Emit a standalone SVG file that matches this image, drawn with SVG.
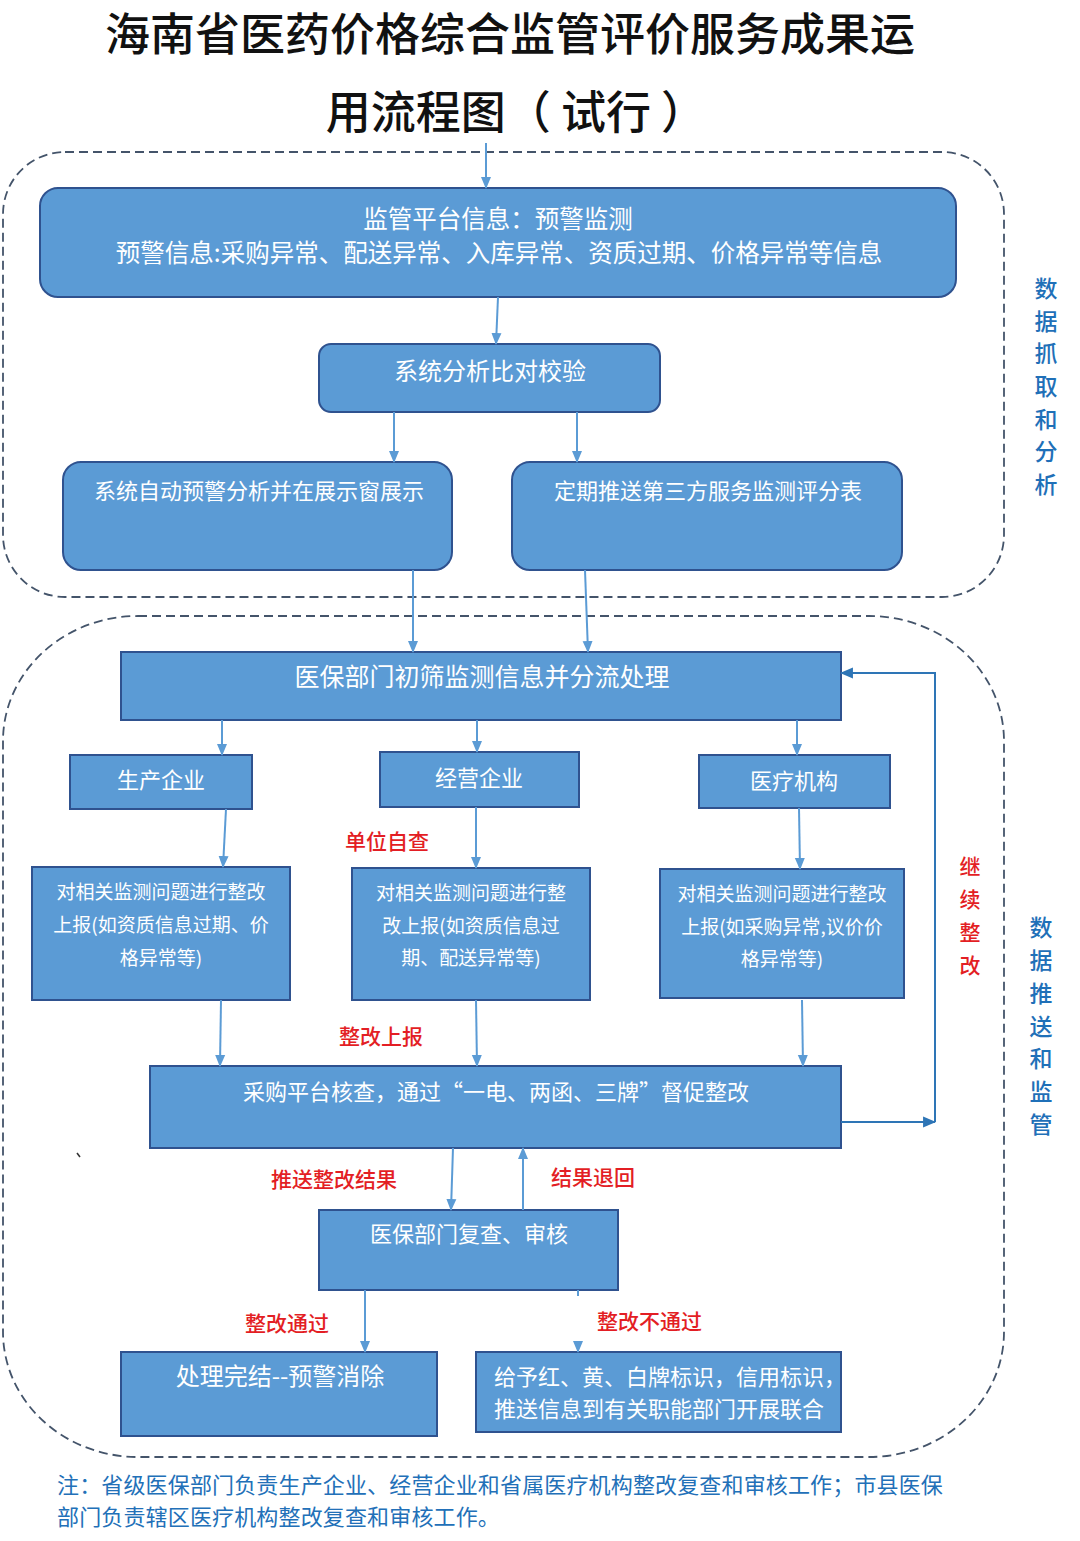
<svg xmlns="http://www.w3.org/2000/svg" width="1080" height="1541" viewBox="0 0 1080 1541">
<defs>
<marker id="ah" viewBox="0 0 12 12" refX="11" refY="6" markerWidth="12" markerHeight="12" markerUnits="userSpaceOnUse" orient="auto">
<path d="M0,1 L12,6 L0,11 Z" fill="#5b9bd5"/>
</marker>
<marker id="ahd" viewBox="0 0 12 12" refX="11" refY="6" markerWidth="13" markerHeight="13" markerUnits="userSpaceOnUse" orient="auto">
<path d="M0,1 L12,6 L0,11 Z" fill="#2e75b6"/>
</marker>
<style>
.region{fill:none;stroke:#44546a;stroke-width:1.8;stroke-dasharray:9 5}
.box{fill:#5b9bd5;stroke:#2f528f;stroke-width:2}
.t{font-family:"Noto Sans CJK SC","Noto Sans",sans-serif;fill:#ffffff}
.c{text-anchor:middle}
.red{font-family:"Noto Sans CJK SC","Noto Sans",sans-serif;fill:#e31e24;font-size:21px;font-weight:500}
.blue{font-family:"Noto Sans CJK SC","Noto Sans",sans-serif;fill:#1f70b8;font-size:23px;font-weight:500;text-anchor:middle}
.ln{stroke:#5b9bd5;stroke-width:2;fill:none;marker-end:url(#ah)}
.lnd{stroke:#2e75b6;stroke-width:2;fill:none}
</style>
</defs>
<rect width="1080" height="1541" fill="#ffffff"/>

<g id="title">
<text x="510" y="51" class="c" font-family="'Noto Sans CJK SC','Noto Sans',sans-serif" font-size="45" font-weight="500" fill="#111111">海南省医药价格综合监管评价服务成果运</text>
<text x="516" y="129" class="c" font-family="'Noto Sans CJK SC','Noto Sans',sans-serif" font-size="45" font-weight="500" fill="#111111">用流程图（ 试行 ）</text>
</g>

<g id="regions">
<rect class="region" x="3" y="152" width="1001" height="445" rx="62" ry="62"/>
<rect class="region" x="3" y="616" width="1001" height="841" rx="135" ry="125"/>
</g>

<g id="side-labels">
<text class="blue"><tspan x="1046" y="297">数</tspan><tspan x="1046" y="330">据</tspan><tspan x="1046" y="362">抓</tspan><tspan x="1046" y="395">取</tspan><tspan x="1046" y="428">和</tspan><tspan x="1046" y="460">分</tspan><tspan x="1046" y="493">析</tspan></text>
<text class="blue"><tspan x="1041" y="936">数</tspan><tspan x="1041" y="969">据</tspan><tspan x="1041" y="1002">推</tspan><tspan x="1041" y="1035">送</tspan><tspan x="1041" y="1067">和</tspan><tspan x="1041" y="1100">监</tspan><tspan x="1041" y="1133">管</tspan></text>
</g>

<g id="n1">
<rect class="box" x="40" y="188" width="916" height="109" rx="18"/>
<text class="t c" font-size="24.5" x="498" y="228">监管平台信息：预警监测</text>
<text class="t c" font-size="24.5" x="499" y="262">预警信息:采购异常、配送异常、入库异常、资质过期、价格异常等信息</text>
</g>

<g id="n2">
<rect class="box" x="319" y="344" width="341" height="68" rx="12"/>
<text class="t c" font-size="24" x="490" y="380">系统分析比对校验</text>
</g>

<g id="n3">
<rect class="box" x="63" y="462" width="389" height="108" rx="18"/>
<text class="t c" font-size="22" x="259" y="499">系统自动预警分析并在展示窗展示</text>
</g>

<g id="n4">
<rect class="box" x="512" y="462" width="390" height="108" rx="18"/>
<text class="t c" font-size="22" x="708" y="499">定期推送第三方服务监测评分表</text>
</g>

<g id="n5">
<rect class="box" x="121" y="652" width="720" height="68"/>
<text class="t c" font-size="25" x="482" y="686">医保部门初筛监测信息并分流处理</text>
</g>

<g id="n6">
<rect class="box" x="70" y="755" width="182" height="54"/>
<text class="t c" font-size="22" x="161" y="788">生产企业</text>
</g>

<g id="n7">
<rect class="box" x="380" y="752" width="199" height="55"/>
<text class="t c" font-size="22" x="479" y="786">经营企业</text>
</g>

<g id="n8">
<rect class="box" x="699" y="755" width="191" height="53"/>
<text class="t c" font-size="22" x="794" y="789">医疗机构</text>
</g>

<g id="n9">
<rect class="box" x="32" y="867" width="258" height="133"/>
<text class="t c" font-size="19" x="161" y="899">对相关监测问题进行整改</text>
<text class="t c" font-size="19" x="161" y="932">上报(如资质信息过期、价</text>
<text class="t c" font-size="19" x="161" y="965">格异常等)</text>
</g>

<g id="n10">
<rect class="box" x="352" y="868" width="238" height="132"/>
<text class="t c" font-size="19" x="471" y="900">对相关监测问题进行整</text>
<text class="t c" font-size="19" x="471" y="933">改上报(如资质信息过</text>
<text class="t c" font-size="19" x="471" y="965">期、配送异常等)</text>
</g>

<g id="n11">
<rect class="box" x="660" y="869" width="244" height="129"/>
<text class="t c" font-size="19" x="782" y="901">对相关监测问题进行整改</text>
<text class="t c" font-size="19" x="782" y="934">上报(如采购异常,议价价</text>
<text class="t c" font-size="19" x="782" y="966">格异常等)</text>
</g>

<g id="n12">
<rect class="box" x="150" y="1066" width="691" height="82"/>
<text class="t c" font-size="22" x="496" y="1100">采购平台核查，通过“一电、两函、三牌”督促整改</text>
</g>

<g id="n13">
<rect class="box" x="319" y="1210" width="299" height="80"/>
<text class="t c" font-size="22" x="469" y="1242">医保部门复查、审核</text>
</g>

<g id="n14">
<rect class="box" x="121" y="1352" width="316" height="84"/>
<text class="t c" font-size="24" x="280" y="1385">处理完结--预警消除</text>
</g>

<g id="n15">
<rect class="box" x="476" y="1352" width="365" height="80"/>
<text class="t" font-size="22" x="494" y="1385">给予红、黄、白牌标识，信用标识，</text>
<text class="t" font-size="22" x="494" y="1417">推送信息到有关职能部门开展联合</text>
</g>

<g id="connectors">
<line class="ln" x1="486" y1="143" x2="486" y2="188"/>
<line class="ln" x1="498" y1="297" x2="496" y2="344"/>
<line class="ln" x1="394" y1="412" x2="394" y2="462"/>
<line class="ln" x1="577" y1="412" x2="577" y2="462"/>
<line class="ln" x1="413" y1="570" x2="413" y2="652"/>
<line class="ln" x1="585" y1="570" x2="588" y2="652"/>
<line class="ln" x1="222" y1="720" x2="222" y2="755"/>
<line class="ln" x1="477" y1="720" x2="477" y2="752"/>
<line class="ln" x1="797" y1="720" x2="797" y2="755"/>
<line class="ln" x1="226" y1="809" x2="223" y2="867"/>
<line class="ln" x1="476" y1="807" x2="476" y2="868"/>
<line class="ln" x1="799" y1="808" x2="800" y2="869"/>
<line class="ln" x1="221" y1="1000" x2="220" y2="1066"/>
<line class="ln" x1="476" y1="1000" x2="477" y2="1066"/>
<line class="ln" x1="802" y1="1000" x2="803" y2="1066"/>
<line class="ln" x1="453" y1="1148" x2="451" y2="1210"/>
<line class="ln" x1="523" y1="1210" x2="523" y2="1148"/>
<line class="ln" x1="365" y1="1290" x2="365" y2="1352"/>
<line class="ln" x1="578" y1="1290" x2="578" y2="1352" stroke-dasharray="6 50 20"/>
<line class="lnd" x1="841" y1="1122" x2="935" y2="1122" marker-end="url(#ahd)"/>
<polyline class="lnd" points="935,1122 935,673 841,673" marker-end="url(#ahd)"/>
<line x1="77" y1="1153" x2="80" y2="1157" stroke="#333333" stroke-width="1.5"/>
</g>

<g id="edge-labels">
<text class="red" x="345" y="849">单位自查</text>
<text class="red" x="339" y="1044">整改上报</text>
<text class="red" x="271" y="1187">推送整改结果</text>
<text class="red" x="551" y="1185">结果退回</text>
<text class="red" x="245" y="1331">整改通过</text>
<text class="red" x="597" y="1329">整改不通过</text>
<text class="red" font-size="22" text-anchor="middle"><tspan x="970" y="874">继</tspan><tspan x="970" y="907">续</tspan><tspan x="970" y="940">整</tspan><tspan x="970" y="973">改</tspan></text>
</g>

<g id="note">
<text font-family="'Noto Sans CJK SC','Noto Sans',sans-serif" font-size="22" fill="#2270b8" letter-spacing="0.15" x="57" y="1493">注：省级医保部门负责生产企业、经营企业和省属医疗机构整改复查和审核工作；市县医保</text>
<text font-family="'Noto Sans CJK SC','Noto Sans',sans-serif" font-size="22" fill="#2270b8" letter-spacing="0.15" x="57" y="1525">部门负责辖区医疗机构整改复查和审核工作。</text>
</g>
</svg>
